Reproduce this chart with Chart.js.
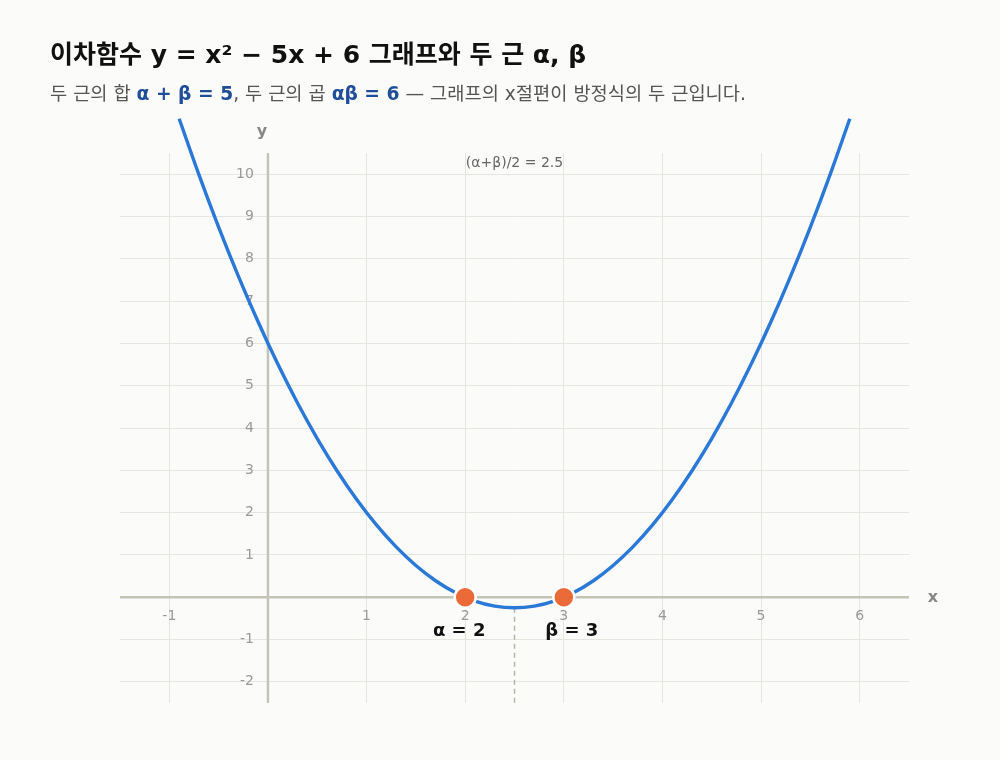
<!DOCTYPE html>
<html>
<head>
<meta charset="utf-8">
<script src="https://cdn.jsdelivr.net/npm/chart.js@4.4.0/dist/chart.umd.min.js"></script>
<style>
  html, body { margin: 0; padding: 0; background: #fbfbf9; }
  #wrap { position: relative; width: 1000px; height: 760px; }
  #head { position: absolute; left: 50px; top: 38px; font-family: "DejaVu Sans", "Noto Sans CJK KR", sans-serif; white-space: nowrap; }
  #head h1 { margin: 0; font-size: 25px; line-height: 34px; font-weight: 700; color: #111; }
  #head p { margin: 10px 0 0 0; font-size: 18.7px; line-height: 24px; color: #555; }
  #head b { color: #1f4e9a; }
  canvas { position: absolute; left: 0; top: 0; }
</style>
</head>
<body>
<div id="wrap">
  <canvas id="myChart" width="1000" height="760"></canvas>
  <div id="head">
    <h1>이차함수 y = x² − 5x + 6 그래프와 두 근 α, β</h1>
    <p>두 근의 합 <b>α + β = 5</b>, 두 근의 곱 <b>αβ = 6</b> — 그래프의 x절편이 방정식의 두 근입니다.</p>
  </div>
</div>
<script>
// curve samples of y = x^2 - 5x + 6
var curve_x = [-0.9, -0.7, -0.5, -0.3, -0.1, 0.1, 0.3, 0.5, 0.7, 0.9, 1.1, 1.3, 1.5, 1.7, 1.9, 2.1, 2.3, 2.5,
               2.7, 2.9, 3.1, 3.3, 3.5, 3.7, 3.9, 4.1, 4.3, 4.5, 4.7, 4.9, 5.1, 5.3, 5.5, 5.7, 5.9];
var curve_y = [11.31, 9.99, 8.75, 7.59, 6.51, 5.51, 4.59, 3.75, 2.99, 2.31, 1.71, 1.19, 0.75, 0.39, 0.11, -0.09, -0.21, -0.25,
               -0.21, -0.09, 0.11, 0.39, 0.75, 1.19, 1.71, 2.31, 2.99, 3.75, 4.59, 5.51, 6.51, 7.59, 8.75, 9.99, 11.31];

// the two roots
var root_x = [2, 3];
var root_y = [0, 0];
var root_labels = ['α = 2', 'β = 3'];

// axis of symmetry
var axis_x = [2.5, 2.5];
var axis_y = [-0.25, -2.5];
var axis_label = '(α+β)/2 = 2.5';

// tick labels
var x_ticks = [-1, 1, 2, 3, 4, 5, 6];
var y_ticks = [-2, -1, 1, 2, 3, 4, 5, 6, 7, 8, 9, 10];

function pts(xs, ys) {
  return xs.map(function (v, i) { return { x: v, y: ys[i] }; });
}

// draws the axes through the origin, tick labels and text notes
const axesPlugin = {
  id: 'axesPlugin',
  beforeDatasetsDraw(chart) {
    const ctx = chart.ctx;
    const xs = chart.scales.x, ys = chart.scales.y;
    const a = chart.chartArea;
    const x0 = xs.getPixelForValue(0), y0 = ys.getPixelForValue(0);
    ctx.save();
    ctx.strokeStyle = '#c4c4b8';
    ctx.lineWidth = 2.5;
    ctx.beginPath();
    ctx.moveTo(a.left, y0); ctx.lineTo(a.right, y0);
    ctx.moveTo(x0, a.top); ctx.lineTo(x0, a.bottom);
    ctx.stroke();

    ctx.fillStyle = '#9a9a9a';
    ctx.font = '14px "DejaVu Sans", sans-serif';
    ctx.textAlign = 'center';
    ctx.textBaseline = 'middle';
    x_ticks.forEach(function (v) {
      ctx.fillText(String(v), xs.getPixelForValue(v), y0 + 19);
    });
    ctx.textAlign = 'right';
    y_ticks.forEach(function (v) {
      ctx.fillText(String(v), x0 - 14, ys.getPixelForValue(v));
    });

    ctx.fillStyle = '#888';
    ctx.font = 'bold 16px "DejaVu Sans", sans-serif';
    ctx.textAlign = 'center';
    ctx.fillText('x', a.right + 24, y0 + 1);
    ctx.fillText('y', x0 - 6, a.top - 21);

    ctx.fillStyle = '#666';
    ctx.font = '14px "DejaVu Sans", sans-serif';
    ctx.fillText(axis_label, xs.getPixelForValue(axis_x[0]), a.top + 10);
    ctx.restore();
  },
  afterDatasetsDraw(chart) {
    const ctx = chart.ctx;
    const xs = chart.scales.x, ys = chart.scales.y;
    const offs = [-6, 8];
    ctx.save();
    ctx.fillStyle = '#111';
    ctx.font = 'bold 18px "DejaVu Sans", sans-serif';
    ctx.textAlign = 'center';
    ctx.textBaseline = 'middle';
    root_x.forEach(function (v, i) {
      ctx.fillText(root_labels[i], xs.getPixelForValue(v) + offs[i], ys.getPixelForValue(root_y[i]) + 34);
    });
    ctx.restore();
  }
};

const config = {
  type: 'scatter',
  data: {
    datasets: [
      {
        data: pts(axis_x, axis_y),
        showLine: true,
        borderColor: '#b4b4ac',
        borderWidth: 1.5,
        borderDash: [5, 4],
        pointRadius: 0,
        order: 3
      },
      {
        data: pts(curve_x, curve_y),
        showLine: true,
        borderColor: '#2a78d8',
        borderWidth: 3.4,
        pointRadius: 0,
        cubicInterpolationMode: 'monotone',
        clip: false,
        order: 2
      },
      {
        data: pts(root_x, root_y),
        backgroundColor: '#ea6a38',
        borderColor: '#ffffff',
        borderWidth: 2.5,
        pointRadius: 10.5,
        clip: false,
        order: 1
      }
    ]
  },
  options: {
    responsive: false,
    animation: false,
    layout: { padding: { left: 120, right: 91, top: 153, bottom: 57 } },
    plugins: { legend: { display: false }, tooltip: { enabled: false } },
    scales: {
      x: {
        type: 'linear', min: -1.5, max: 6.5,
        afterBuildTicks: function (s) { s.ticks = [-1, 0, 1, 2, 3, 4, 5, 6].map(function (v) { return { value: v }; }); },
        ticks: { display: false },
        grid: { color: '#e6e6e0', lineWidth: 1, drawTicks: false },
        border: { display: false }
      },
      y: {
        type: 'linear', min: -2.5, max: 10.5,
        afterBuildTicks: function (s) { s.ticks = [-2, -1, 0, 1, 2, 3, 4, 5, 6, 7, 8, 9, 10].map(function (v) { return { value: v }; }); },
        ticks: { display: false },
        grid: { color: '#e6e6e0', lineWidth: 1, drawTicks: false },
        border: { display: false }
      }
    }
  },
  plugins: [axesPlugin]
};

const myChart = new Chart(document.getElementById('myChart'), config);
</script>
</body>
</html>
